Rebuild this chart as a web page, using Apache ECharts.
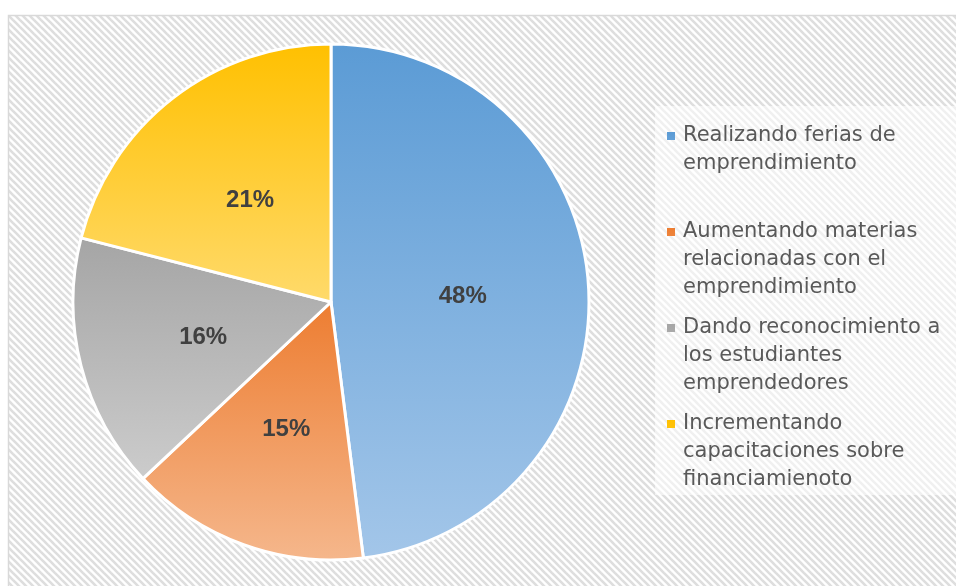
<!DOCTYPE html>
<html>
<head>
<meta charset="utf-8">
<script src="https://cdn.jsdelivr.net/npm/echarts@6/dist/echarts.min.js"></script>
<style>
  html, body { margin: 0; padding: 0; background: #fff; }
  #main { width: 956px; height: 586px; }
</style>
</head>
<body>
<div id="main"></div>
<script>
var categories = [
    'Realizando ferias de\nemprendimiento',
    'Aumentando materias\nrelacionadas con el\nemprendimiento',
    'Dando reconocimiento a\nlos estudiantes\nemprendedores',
    'Incrementando\ncapacitaciones sobre\nfinanciamienoto'
];
var values = [48, 15, 16, 21];
var colorTop = ['#5b9bd5', '#ed7d31', '#a5a5a5', '#ffc000'];
var colorBottom = ['#a3c6e9', '#f5b78c', '#cccccc', '#ffda6b'];

// diagonal hatch tile for the chart area
var tile = document.createElement('canvas');
tile.width = 7;
tile.height = 7;
var ctx = tile.getContext('2d');
ctx.fillStyle = '#ffffff';
ctx.fillRect(0, 0, 7, 7);
ctx.strokeStyle = '#dedede';
ctx.lineWidth = 2.6;
[-7, 0, 7].forEach(function (k) {
    ctx.beginPath();
    ctx.moveTo(k - 1, -1);
    ctx.lineTo(k + 8, 8);
    ctx.stroke();
});

var pieData = categories.map(function (name, i) {
    return {
        name: name,
        value: values[i],
        itemStyle: {
            color: new echarts.graphic.LinearGradient(0, 0, 0, 1, [
                { offset: 0, color: colorTop[i] },
                { offset: 1, color: colorBottom[i] }
            ])
        }
    };
});

var myChart = echarts.init(document.getElementById('main'));
var option = {
    animation: false,
    graphic: [
        {
            type: 'rect',
            shape: { x: 8.5, y: 15.5, width: 960, height: 600 },
            style: { fill: { image: tile, repeat: 'repeat' }, stroke: '#d9d9d9', lineWidth: 1.5 },
            silent: true
        },
        {
            type: 'rect',
            shape: { x: 655, y: 106, width: 310, height: 389 },
            style: { fill: 'rgba(255,255,255,0.55)' },
            silent: true
        }
    ],
    legend: {
        orient: 'vertical',
        left: 667,
        top: 122,
        padding: 0,
        // small square sitting at the top of a tall box, so it lines up with the first text line
        icon: 'path://M0,0H8V8H0Z M0,64H8Z',
        itemWidth: 8,
        itemHeight: 64,
        itemGap: 12,
        itemStyle: { borderWidth: 0 },
        data: categories,
        formatter: function (name) {
            return name.split('\n').length < 3 ? name + '\n ' : name;
        },
        textStyle: {
            fontFamily: 'DejaVu Sans',
            fontSize: 21,
            color: '#595959',
            lineHeight: 28,
            padding: [0, 0, 0, 3]
        }
    },
    series: [
        {
            type: 'pie',
            center: [331, 302],
            radius: 258,
            startAngle: 90,
            clockwise: true,
            avoidLabelOverlap: false,
            data: pieData,
            itemStyle: { borderColor: '#ffffff', borderWidth: 3 },
            label: {
                show: true,
                position: 'inside',
                formatter: function (p) { return p.value + '%'; },
                fontFamily: 'Liberation Sans',
                fontWeight: 'bold',
                fontSize: 24,
                color: '#404040',
                textBorderWidth: 0,
                offset: [0, 3]
            },
            labelLine: { show: false },
            emphasis: { disabled: true }
        }
    ]
};
myChart.setOption(option);
</script>
</body>
</html>
